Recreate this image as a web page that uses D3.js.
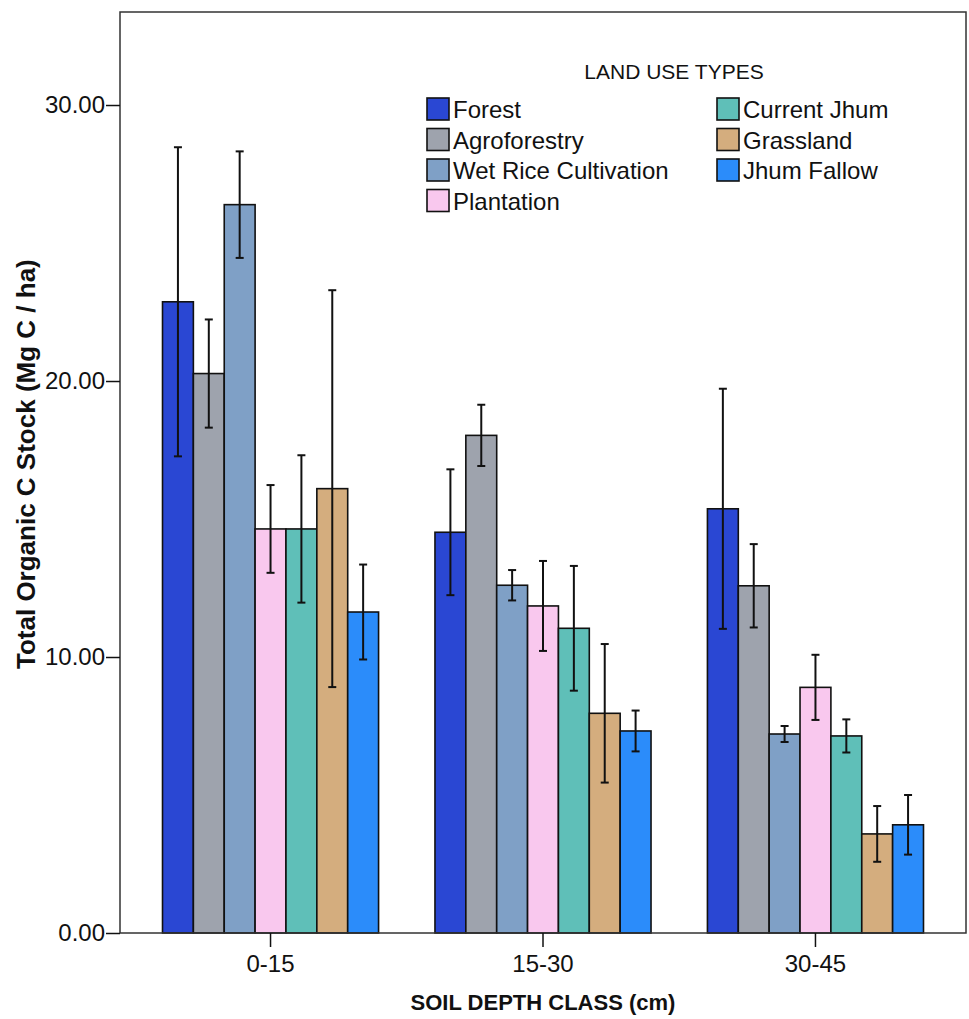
<!DOCTYPE html>
<html>
<head>
<meta charset="utf-8">
<script src="https://cdn.jsdelivr.net/npm/d3@7"></script>
<style>
  body { margin: 0; background: #fff; }
  text { font-family: Arial, "Liberation Sans", sans-serif; fill: #111; }
</style>
</head>
<body>
<svg width="969" height="1019"></svg>
<script>
var depths = ["0-15", "15-30", "30-45"];
var landUses = ["Forest", "Agroforestry", "Wet Rice Cultivation", "Plantation", "Current Jhum", "Grassland", "Jhum Fallow"];
var colors = ["#2a47d3", "#9ea3ad", "#7fa0c6", "#f9c8ee", "#5fbfb8", "#d4ad7e", "#2b8cfa"];
// mean values per depth, in landUses order
var means = [
	[22.87, 20.27, 26.39, 14.64, 14.64, 16.10, 11.63],
	[14.52, 18.03, 12.60, 11.85, 11.04, 7.96, 7.32],
	[15.37, 12.58, 7.21, 8.90, 7.14, 3.59, 3.92]
];
// half length of error bars
var errs = [
	[5.60, 1.96, 1.93, 1.59, 2.67, 7.19, 1.72],
	[2.28, 1.11, 0.55, 1.63, 2.26, 2.51, 0.74],
	[4.35, 1.51, 0.29, 1.18, 0.60, 1.01, 1.08]
];
var yTicks = [0, 10, 20, 30];

(function drawChart(){
	var svg = d3.select("svg");
	var plotLeft = 120, plotRight = 966, plotTop = 12, plotBottom = 933;

	var x0 = d3.scaleBand()
		.domain(depths)
		.range([plotLeft, plotRight])
		.paddingInner(0.207)
		.paddingOuter(0.156);

	var x1 = d3.scaleBand()
		.domain(landUses)
		.range([0, x0.bandwidth()]);

	var y = d3.scaleLinear()
		.domain([0, 33.37])
		.range([plotBottom, plotTop]);

	var data = [];
	depths.forEach(function(d, i){
		landUses.forEach(function(l, j){
			data.push({depth: d, use: l, mean: means[i][j], err: errs[i][j], color: colors[j]});
		});
	});

	// bars
	svg.append("g").selectAll("rect").data(data).enter()
		.append("rect")
		.attr("x", function(d){ return x0(d.depth) + x1(d.use); })
		.attr("y", function(d){ return y(d.mean); })
		.attr("width", x1.bandwidth())
		.attr("height", function(d){ return plotBottom - y(d.mean); })
		.attr("fill", function(d){ return d.color; })
		.attr("stroke", "#111")
		.attr("stroke-width", 1.6);

	// error bars
	var eb = svg.append("g").attr("stroke", "#111").attr("stroke-width", 2);
	data.forEach(function(d){
		var cx = x0(d.depth) + x1(d.use) + x1.bandwidth() / 2;
		var y1 = y(d.mean + d.err), y2 = y(d.mean - d.err);
		eb.append("line").attr("x1", cx).attr("x2", cx).attr("y1", y1).attr("y2", y2);
		eb.append("line").attr("x1", cx - 4).attr("x2", cx + 4).attr("y1", y1).attr("y2", y1);
		eb.append("line").attr("x1", cx - 4).attr("x2", cx + 4).attr("y1", y2).attr("y2", y2);
	});

	// frame
	svg.append("rect")
		.attr("x", plotLeft).attr("y", plotTop)
		.attr("width", plotRight - plotLeft).attr("height", plotBottom - plotTop)
		.attr("fill", "none")
		.attr("stroke", "#333")
		.attr("stroke-width", 1.5);

	// y axis
	var yAxis = svg.append("g")
		.attr("transform", "translate(" + plotLeft + ",0)")
		.call(d3.axisLeft(y).tickValues(yTicks).tickFormat(d3.format(".2f")).tickSize(14).tickPadding(1));
	yAxis.select(".domain").remove();
	yAxis.selectAll("line").attr("stroke", "#111").attr("stroke-width", 1.5);
	yAxis.selectAll("text").attr("font-size", 24).attr("fill", "#111").attr("font-family", "Arial, 'Liberation Sans', sans-serif");

	// x axis
	var xAxis = svg.append("g")
		.attr("transform", "translate(0," + plotBottom + ")")
		.call(d3.axisBottom(x0).tickSize(14).tickPadding(8));
	xAxis.select(".domain").remove();
	xAxis.selectAll("line").attr("stroke", "#111").attr("stroke-width", 1.5);
	xAxis.selectAll("text").attr("font-size", 24).attr("fill", "#111").attr("font-family", "Arial, 'Liberation Sans', sans-serif");

	// axis titles
	svg.append("text")
		.attr("x", (plotLeft + plotRight) / 2)
		.attr("y", 1010)
		.attr("text-anchor", "middle")
		.attr("font-size", 22)
		.attr("font-weight", "bold")
		.text("SOIL DEPTH CLASS (cm)");

	svg.append("text")
		.attr("transform", "translate(35,669) rotate(-90)")
		.attr("text-anchor", "start")
		.attr("font-size", 26)
		.attr("font-weight", "bold")
		.text("Total Organic C Stock (Mg C / ha)");

	// legend
	var legend = svg.append("g");
	legend.append("text")
		.attr("x", 674).attr("y", 79)
		.attr("text-anchor", "middle")
		.attr("font-size", 21)
		.text("LAND USE TYPES");

	var items = legend.selectAll("g.item").data(landUses).enter()
		.append("g")
		.attr("class", "item")
		.attr("transform", function(d, i){
			var col = i < 4 ? 0 : 1, row = i < 4 ? i : i - 4;
			return "translate(" + (col ? 717 : 427) + "," + (98 + row * 30.5) + ")";
		});
	items.append("rect")
		.attr("width", 22).attr("height", 22)
		.attr("fill", function(d, i){ return colors[i]; })
		.attr("stroke", "#111")
		.attr("stroke-width", 1.6);
	items.append("text")
		.attr("x", 26).attr("y", 20)
		.attr("font-size", 24)
		.text(function(d){ return d; });
})();
</script>
</body>
</html>
